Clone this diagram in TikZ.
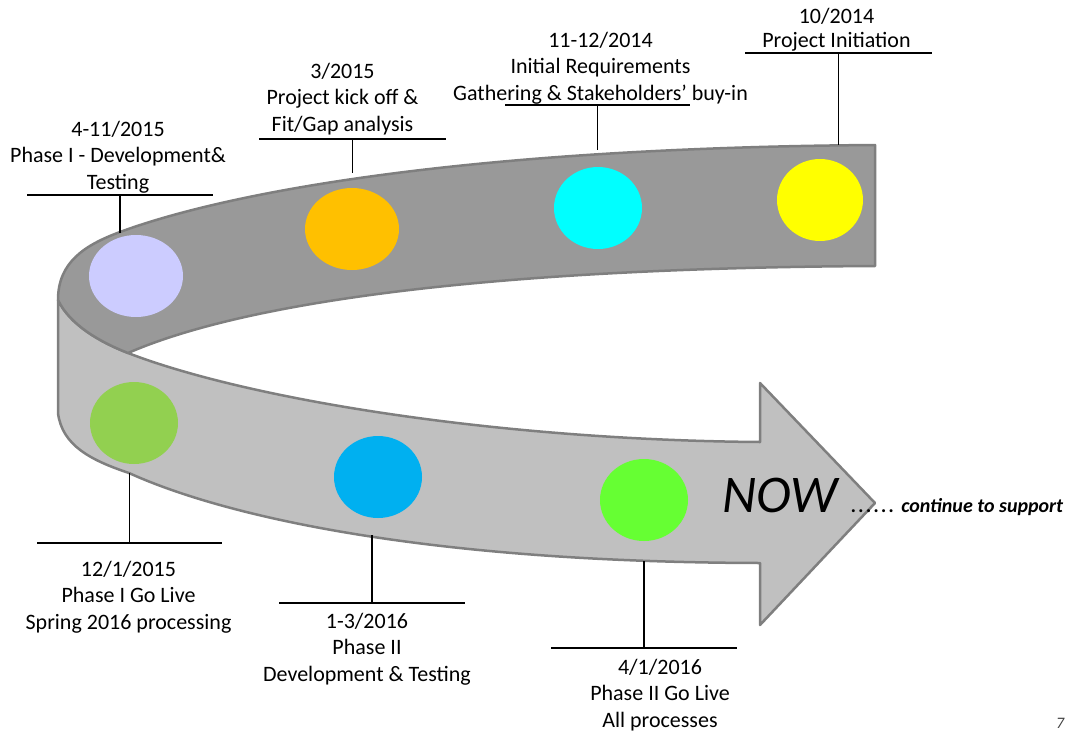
\documentclass[tikz,border=0pt]{standalone}
\usepackage{fontspec}
\setmainfont{Carlito}
\usetikzlibrary{positioning,shapes.geometric}
\definecolor{ribbondark}{HTML}{999999}
\definecolor{ribbonlight}{HTML}{C0C0C0}
\definecolor{ribbonedge}{HTML}{7F7F7F}
\definecolor{dotlavender}{HTML}{CCCCFF}
\definecolor{dotorange}{HTML}{FFC000}
\definecolor{dotcyan}{HTML}{00FFFF}
\definecolor{dotyellow}{HTML}{FFFF00}
\definecolor{dotgreen}{HTML}{92D050}
\definecolor{dotblue}{HTML}{00B0F0}
\definecolor{dotlime}{HTML}{66FF33}
\begin{document}
\begin{tikzpicture}[x=1pt,y=-1pt]
	    \tikzset{ribbon/.style={draw=ribbonedge,line width=2.5pt,line join=round},
	      dot/.style={ellipse,minimum width=88pt,minimum height=82pt,inner sep=0pt},
	      lbl/.style={align=center,inner sep=0pt,font=\fontsize{22}{26.5}\selectfont},
	      tick/.style={line width=1.8pt}}
	    \useasboundingbox (0,0) rectangle (1066,734);
	    \filldraw[ribbon,fill=ribbonlight] (58,300) -- (58,413)
	      .. controls (62,445) and (90,460) .. (129,473)
	      .. controls (210,510) and (400,562) .. (760,563)
	      -- (760,625) -- (875,503) -- (760,383) -- (760,442)
	      .. controls (500,440) and (250,400) .. (128,353)
	      .. controls (100,342) and (70,325) .. (58,300) -- cycle;
	    \filldraw[ribbon,fill=ribbondark] (58,300)
	      .. controls (58,262) and (85,245) .. (120,232)
	      .. controls (220,195) and (450,148) .. (875,145)
	      -- (875,266)
	      .. controls (500,268) and (250,300) .. (128,353)
	      .. controls (100,342) and (70,325) .. (58,300) -- cycle;
	    \node[dot,fill=dotlavender,minimum width=94pt] (d1) at (136,276) {};
	    \node[dot,fill=dotorange,minimum width=94pt] (d2) at (352,229) {};
	    \node[dot,fill=dotcyan] (d3) at (598,208) {};
	    \node[dot,fill=dotyellow,minimum width=86pt] (d4) at (820,200) {};
	    \node[dot,fill=dotgreen] (d5) at (134,423) {};
	    \node[dot,fill=dotblue] (d6) at (378,477) {};
	    \node[dot,fill=dotlime] (d7) at (644,500) {};
	    \coordinate (l1a) at (27,195);
	    \coordinate (l1b) at (213,195);
	    \coordinate (l2a) at (259,139);
	    \coordinate (l2b) at (446,139);
	    \coordinate (l3a) at (505,105);
	    \coordinate (l3b) at (690,105);
	    \coordinate (l4a) at (745,53);
	    \coordinate (l4b) at (932,53);
	    \coordinate (l5a) at (37,543);
	    \coordinate (l5b) at (222,543);
	    \coordinate (l6a) at (279,603);
	    \coordinate (l6b) at (465,603);
	    \coordinate (l7a) at (551,648);
	    \coordinate (l7b) at (737,648);
	    \draw[tick] (l1a) -- coordinate[pos=.5] (l1) (l1b);
	    \draw[tick] (l2a) -- coordinate[pos=.5] (l2) (l2b);
	    \draw[tick] (l3a) -- coordinate[pos=.5] (l3) (l3b);
	    \draw[tick] (l4a) -- coordinate[pos=.5] (l4) (l4b);
	    \draw[tick] (l5a) -- coordinate[pos=.5] (l5) (l5b);
	    \draw[tick] (l6a) -- coordinate[pos=.5] (l6) (l6b);
	    \draw[tick] (l7a) -- coordinate[pos=.5] (l7) (l7b);
	    \coordinate (s1) at (120,233);
	    \coordinate (s2) at (352.5,173);
	    \coordinate (s3) at (597.5,150);
	    \coordinate (s4) at (838.5,145);
	    \coordinate (s5) at (129.5,473);
	    \coordinate (s6) at (372,535);
	    \coordinate (s7) at (644,561);
	    \draw[tick] (l1) -- (s1);
	    \draw[tick] (l2) -- (s2);
	    \draw[tick] (l3) -- (s3);
	    \draw[tick] (l4) -- (s4);
	    \draw[tick] (l5) -- (s5);
	    \draw[tick] (l6) -- (s6);
	    \draw[tick] (l7) -- (s7);
	    \node[lbl,above=2pt of l1,xshift=-2pt] (t1) {4-11/2015\\Phase I - Development\&\\Testing};
	    \node[lbl,above=4pt of l2,xshift=-10pt] (t2) {3/2015\\Project kick off \&\\Fit/Gap analysis};
	    \node[lbl,above=1pt of l3,xshift=3pt] (t3) {11-12/2014\\Initial Requirements\\Gathering \& Stakeholders’ buy-in};
	    \node[lbl,above=2pt of l4,xshift=-2pt,font=\fontsize{22}{24}\selectfont] (t4) {10/2014\\Project Initiation};
	    \node[lbl,below=18pt of l5,xshift=-1pt] (t5) {12/1/2015\\Phase I Go Live\\Spring 2016 processing};
	    \node[lbl,below=10pt of l6,xshift=-5pt] (t6) {1-3/2016\\Phase II\\Development \& Testing};
	    \node[lbl,below=11pt of l7,xshift=16pt] (t7) {4/1/2016\\Phase II Go Live\\All processes};
	    \node[inner sep=0pt,font=\fontsize{53}{60}\selectfont\itshape] (now) at (780,495) {NOW};
	    \node[inner sep=0pt,anchor=west,font=\fontsize{20}{22}\selectfont\bfseries\itshape] (more) at (851,507)
	      {.\kern2.2pt.\kern2.2pt.\kern2.2pt.\kern2.2pt.\kern2.2pt.\kern1pt{} continue to support};
	    \node[inner sep=0pt,anchor=west,text=black!75,font=\fontsize{16}{18}\selectfont\itshape] (page) at (1056,723) {7};
	\end{tikzpicture}
\end{document}
